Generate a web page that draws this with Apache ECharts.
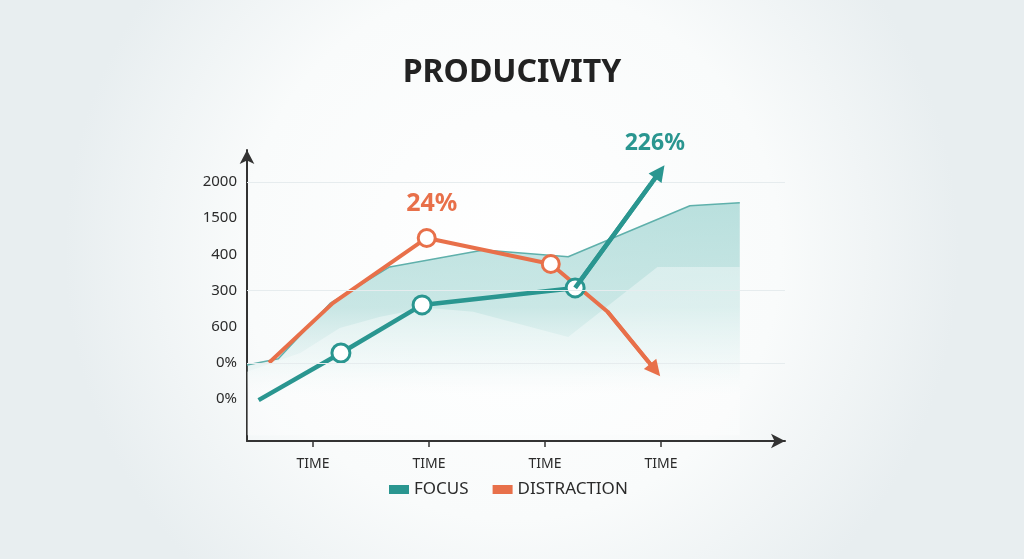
<!DOCTYPE html>
<html>
<head>
<meta charset="utf-8">
<title>Producivity</title>
<script src="https://cdn.jsdelivr.net/npm/echarts@6/dist/echarts.min.js"></script>
<style>
  html, body { margin: 0; padding: 0; background: #f3f6f7; }
  #chart { width: 1024px; height: 559px; }
</style>
</head>
<body>
<div id="chart"></div>
<script>
// tick labels (y values 1..7 from bottom to top)
var yLabels = ['0%', '0%', '600', '300', '400', '1500', '2000'];
var xTicks = [1, 2, 3, 4];
var xLabel = 'TIME';

// line series, [x, y] in axis units
var focus = [[0.53, 0.97], [1.24, 2.27], [1.94, 3.60], [3.26, 4.07], [3.99, 7.28]];
var distraction = [[0.62, 2.00], [1.17, 3.65], [1.98, 5.45], [3.05, 4.73], [3.54, 3.41], [3.95, 1.80]];

// shaded band behind the lines
var bandTop = [[0.43, 1.94], [0.70, 2.11], [1.15, 3.65], [1.66, 4.65], [2.47, 5.12], [3.20, 4.93], [4.25, 6.34], [4.68, 6.42]];
var bandLow = [[0.43, 1.75], [0.89, 2.27], [1.23, 2.96], [1.58, 3.27], [1.98, 3.52], [2.38, 3.41], [3.20, 2.71], [3.97, 4.65], [4.68, 4.65]];

var gridLines = [7, 4, 2];

var TEAL = '#2a9690';
var ORANGE = '#e8704a';
var TXT = '#2b2b2b';
var FONT = '"Noto Sans", "Open Sans", sans-serif';

var chart = echarts.init(document.getElementById('chart'));

// markers only on some points
function withSymbols(arr, marked) {
  return arr.map(function (p, i) {
    return { value: p, symbol: marked.indexOf(i) >= 0 ? 'circle' : 'none' };
  });
}

var focusData = withSymbols(focus, [1, 2, 3]);
var tip = focusData[focusData.length - 1];
tip.symbol = 'circle';
tip.symbolSize = 1;
tip.itemStyle = { color: 'rgba(0,0,0,0)', borderWidth: 0 };
tip.label = {
  show: true, position: 'top', distance: 16, offset: [-5, 0],
  formatter: '226%', color: TEAL, fontSize: 23, fontWeight: 'bold', fontFamily: FONT
};
var distData = withSymbols(distraction, [2, 3]);
distData[2].label = {
  show: true, position: 'top', distance: 12, offset: [5, 0],
  formatter: '24%', color: ORANGE, fontSize: 25, fontWeight: 'bold', fontFamily: FONT
};

function lastSegment(arr) {
  var a = arr[arr.length - 2], b = arr[arr.length - 1];
  return [[{ coord: a }, { coord: b }]];
}

chart.setOption({
  backgroundColor: {
    type: 'radial', x: 0.5, y: 0.45, r: 0.8,
    colorStops: [
      { offset: 0, color: '#ffffff' },
      { offset: 0.6, color: '#f9fbfb' },
      { offset: 1, color: '#e8eef0' }
    ]
  },
  animation: false,
  title: {
    text: 'PRODUCIVITY',
    left: 'center',
    top: 52,
    textStyle: { color: '#222', fontSize: 32, fontWeight: 'bold', fontFamily: FONT }
  },
  legend: {
    data: [
      { name: 'FOCUS', itemStyle: { color: TEAL, borderWidth: 0 } },
      { name: 'DISTRACTION', itemStyle: { color: ORANGE, borderWidth: 0 } }
    ],
    left: 384,
    top: 476,
    icon: 'rect',
    itemWidth: 20,
    itemHeight: 9,
    itemGap: 24,
    textStyle: { color: TXT, fontSize: 17, fontFamily: FONT }
  },
  grid: { left: 247, right: 239, top: 150, bottom: 118 },
  xAxis: {
    type: 'value',
    min: 0.43,
    max: 5.07,
    axisLine: {
      onZero: false,
      symbol: ['none', 'arrow'],
      symbolSize: [11, 14],
      lineStyle: { color: '#333', width: 2 }
    },
    axisTick: { show: true, customValues: xTicks, length: 6, lineStyle: { color: '#333', width: 1.5 } },
    axisLabel: {
      customValues: xTicks,
      formatter: function () { return xLabel; },
      color: TXT, fontSize: 14, fontFamily: FONT, margin: 16
    },
    splitLine: { show: false }
  },
  yAxis: {
    type: 'value',
    min: -0.16,
    max: 7.88,
    axisLine: {
      show: true,
      onZero: false,
      symbol: ['none', 'arrow'],
      symbolSize: [11, 14],
      lineStyle: { color: '#333', width: 2 }
    },
    axisTick: { show: false },
    axisLabel: {
      customValues: [1, 2, 3, 4, 5, 6, 7],
      formatter: function (v) { return yLabels[Math.round(v) - 1]; },
      color: TXT, fontSize: 15, fontFamily: FONT, margin: 10
    },
    splitLine: { show: false }
  },
  series: [
    {
      name: 'band',
      type: 'line',
      data: bandTop,
      symbol: 'none',
      silent: true,
      z: 1,
      lineStyle: { color: '#5fb0ab', width: 1.5 },
      areaStyle: {
        color: {
          type: 'linear', x: 0, y: 200, x2: 0, y2: 395, global: true,
          colorStops: [
            { offset: 0, color: 'rgba(130,200,196,0.78)' },
            { offset: 0.55, color: 'rgba(140,204,200,0.65)' },
            { offset: 0.85, color: 'rgba(180,222,220,0.3)' },
            { offset: 1, color: 'rgba(220,238,238,0)' }
          ]
        }
      },
      markLine: {
        silent: true,
        symbol: 'none',
        label: { show: false },
        lineStyle: { color: '#e6ecee', width: 1, type: 'solid' },
        data: gridLines.map(function (v) { return { yAxis: v }; })
      }
    },
    {
      name: 'bandLow',
      type: 'line',
      data: bandLow,
      symbol: 'none',
      silent: true,
      z: 1,
      lineStyle: { width: 0 },
      areaStyle: {
        color: {
          type: 'linear', x: 0, y: 260, x2: 0, y2: 400, global: true,
          colorStops: [
            { offset: 0, color: 'rgba(255,255,255,0.55)' },
            { offset: 1, color: 'rgba(255,255,255,0.5)' }
          ]
        }
      }
    },
    {
      name: 'DISTRACTION',
      type: 'line',
      data: distData,
      z: 3,
      symbolSize: 17,
      color: ORANGE,
      lineStyle: { color: ORANGE, width: 4 },
      itemStyle: { color: '#fff', borderColor: ORANGE, borderWidth: 3 },
      markLine: {
        silent: true,
        symbol: ['none', 'triangle'],
        symbolSize: [16, 16],
        label: { show: false },
        lineStyle: { color: ORANGE, width: 4, type: 'solid' },
        data: lastSegment(distraction)
      }
    },
    {
      name: 'FOCUS',
      type: 'line',
      data: focusData,
      z: 4,
      symbolSize: 18,
      color: TEAL,
      lineStyle: { color: TEAL, width: 4.5 },
      itemStyle: { color: '#fff', borderColor: TEAL, borderWidth: 3 },
      markLine: {
        silent: true,
        symbol: ['none', 'triangle'],
        symbolSize: [16, 16],
        label: { show: false },
        lineStyle: { color: TEAL, width: 4.5, type: 'solid' },
        data: lastSegment(focus)
      }
    }
  ]
});
</script>
</body>
</html>
